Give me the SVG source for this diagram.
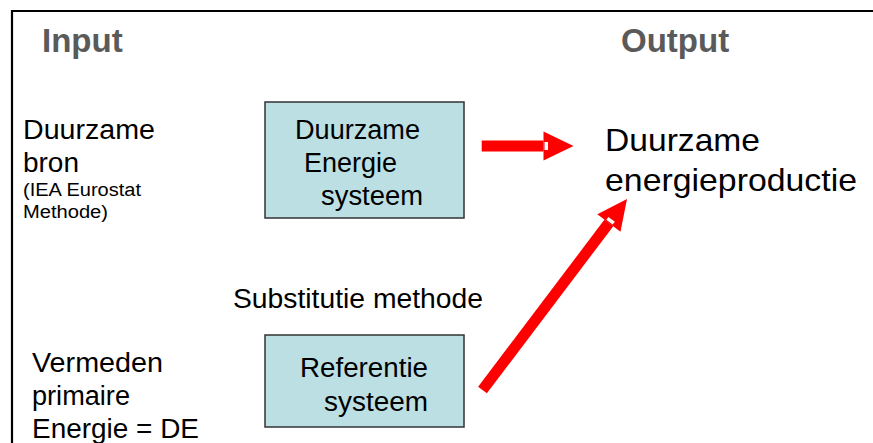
<svg xmlns="http://www.w3.org/2000/svg" width="873" height="443" viewBox="0 0 873 443">
  <style>
    .frame { stroke: #000; stroke-width: 2.2; fill: none; }
    .title { font-family: "Liberation Sans", Arial, sans-serif; font-weight: bold; font-size: 33px; fill: #5a5a5a; }
    .lbl { font-family: "Liberation Sans", Arial, sans-serif; fill: #000; }
    .big { font-size: 27px; }
    .small { font-size: 18px; }
    .out { font-size: 32px; }
    .box { fill: #bbdfe3; stroke: #333; stroke-width: 1.5; }
    .arrow { stroke: #ff0000; stroke-width: 11; fill: none; marker-end: url(#head); }
  </style>
  <defs>
    <marker id="head" markerUnits="userSpaceOnUse" markerWidth="34" markerHeight="34" viewBox="-2 -16 34 32" refX="0" refY="0" orient="auto">
      <path d="M0,-14.5 L30,0 L0,14.5 Z" fill="#ff0000"/>
      <rect x="1" y="-4" width="3.5" height="8" fill="#fff"/>
    </marker>
  </defs>

  <rect width="873" height="443" fill="#fff"/>
  <path class="frame" d="M12,443 V11 H873"/>

  <g id="headings">
    <text class="title" x="42" y="52">Input</text>
    <text class="title" x="621" y="52">Output</text>
  </g>

  <g id="source">
    <text class="lbl big" x="23" y="139" textLength="132" lengthAdjust="spacingAndGlyphs">Duurzame</text>
    <text class="lbl big" x="23" y="172" textLength="56" lengthAdjust="spacingAndGlyphs">bron</text>
    <text class="lbl small" x="23" y="196" textLength="118" lengthAdjust="spacingAndGlyphs">(IEA Eurostat</text>
    <text class="lbl small" x="23" y="218" textLength="85" lengthAdjust="spacingAndGlyphs">Methode)</text>
  </g>

  <g id="avoided">
    <text class="lbl big" x="32" y="372" textLength="131" lengthAdjust="spacingAndGlyphs">Vermeden</text>
    <text class="lbl big" x="32" y="405" textLength="98" lengthAdjust="spacingAndGlyphs">primaire</text>
    <text class="lbl big" x="32" y="438" textLength="167" lengthAdjust="spacingAndGlyphs">Energie = DE</text>
  </g>

  <g id="de-system">
    <rect class="box" x="265" y="102" width="199" height="116"/>
    <text class="lbl big" x="295" y="139" textLength="125" lengthAdjust="spacingAndGlyphs">Duurzame</text>
    <text class="lbl big" x="304" y="172">Energie</text>
    <text class="lbl big" x="321" y="205" textLength="102" lengthAdjust="spacingAndGlyphs">systeem</text>
  </g>

  <g id="method">
    <text class="lbl big" x="233" y="308" textLength="250" lengthAdjust="spacingAndGlyphs">Substitutie methode</text>
  </g>

  <g id="ref-system">
    <rect class="box" x="265" y="335" width="199" height="92"/>
    <text class="lbl big" x="300" y="377" textLength="128" lengthAdjust="spacingAndGlyphs">Referentie</text>
    <text class="lbl big" x="324" y="411" textLength="104" lengthAdjust="spacingAndGlyphs">systeem</text>
  </g>

  <g id="production">
    <text class="lbl out" x="605" y="151" textLength="155" lengthAdjust="spacingAndGlyphs">Duurzame</text>
    <text class="lbl out" x="605" y="191" textLength="252" lengthAdjust="spacingAndGlyphs">energieproductie</text>
  </g>

  <g id="connectors">
    <line class="arrow" x1="481.7" y1="146" x2="543.5" y2="146"/>
    <line class="arrow" x1="482.5" y1="390" x2="608.9" y2="222.9"/>
  </g>
</svg>
